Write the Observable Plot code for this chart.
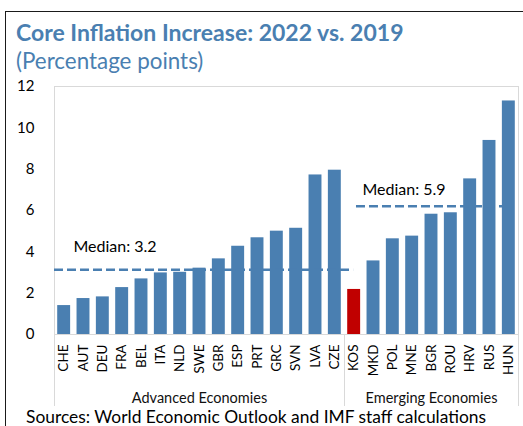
<!DOCTYPE html>
<html>
<head>
<meta charset="utf-8">
<script src="https://cdn.jsdelivr.net/npm/d3@7"></script>
<script src="https://cdn.jsdelivr.net/npm/@observablehq/plot@0.6"></script>
<style>
  html, body { margin: 0; padding: 0; background: #fff; overflow: hidden; }
  body { width: 523px; height: 426px; position: relative; font-family: Lato, "Open Sans", sans-serif; }
  #box { position: absolute; left: 5px; top: 11px; width: 600px; height: 500px; border: 1.5px solid #1a1a1a; box-sizing: border-box; }
  #title { position: absolute; left: 16px; top: 21.1px; font-size: 23px; line-height: 23px; font-weight: 700; color: #4a7fb1; white-space: nowrap; }
  #subtitle { position: absolute; left: 16px; top: 50px; font-size: 22.4px; line-height: 22px; color: #4a7fb1; white-space: nowrap; }
  #chart { position: absolute; left: 0; top: 80px; }
  #caption { position: absolute; left: 26px; top: 407.6px; font-size: 17.4px; line-height: 17.4px; color: #000; white-space: nowrap; }
</style>
</head>
<body>
<div id="box"></div>
<div id="title">Core Inflation Increase: 2022 vs. 2019</div>
<div id="subtitle">(Percentage points)</div>
<div id="chart"></div>
<div id="caption">Sources: World Economic Outlook and IMF staff calculations</div>
<script>
// ---- data ----
const advCountries = ["CHE","AUT","DEU","FRA","BEL","ITA","NLD","SWE","GBR","ESP","PRT","GRC","SVN","LVA","CZE"];
const advValues    = [1.40, 1.74, 1.82, 2.27, 2.69, 2.98, 3.01, 3.21, 3.66, 4.27, 4.68, 5.00, 5.14, 7.72, 7.95];
const emCountries  = ["KOS","MKD","POL","MNE","BGR","ROU","HRV","RUS","HUN"];
const emValues     = [2.18, 3.56, 4.63, 4.76, 5.82, 5.89, 7.53, 9.39, 11.30];
const highlighted  = ["KOS"];
const groupLabels  = ["Advanced Economies", "Emerging Economies"];
const medianLabels = ["Median: 3.2", "Median: 5.9"];
const medianLevels = [3.13, 6.2];          // height of dashed lines as drawn
const medianSpans  = [[0, 15.47], [15.62, 23.28]]; // category-index extents of dashed lines
const medianLabelPos = [[0.98, 4.22], [15.93, 7.0]]; // [category index, value]
const yTicks = [0, 2, 4, 6, 8, 10, 12];

// ---- derived tables ----
const countries = [...advCountries, ...emCountries];
const values = [...advValues, ...emValues];
const n = countries.length;
const data = countries.map((c, i) => ({i, country: c, value: values[i]}));
const groupBounds = [[0, advCountries.length], [advCountries.length, n]];
const groups = groupLabels.map((label, k) => ({label, center: (groupBounds[k][0] + groupBounds[k][1]) / 2}));
const edges = [0, n];
const innerDividers = [advCountries.length];
const medians = medianLabels.map((label, k) => ({
  label, level: medianLevels[k], x1: medianSpans[k][0], x2: medianSpans[k][1],
  lx: medianLabelPos[k][0], ly: medianLabelPos[k][1]
}));
const tickLabel = new Map(data.map(d => [d.i + 0.5, d.country]));

const blue = "#4a7fb1", red = "#c00000", grid = "#d9d9d9";

const chart = Plot.plot({
  width: 523,
  height: 340,
  marginTop: 6,
  marginBottom: 86,
  marginLeft: 54,
  marginRight: 5,
  style: {fontFamily: "Lato, 'Open Sans', sans-serif", background: "transparent", overflow: "visible", color: "#000"},
  x: {domain: [0, n], axis: null},
  y: {domain: [0, 12], axis: null},
  marks: [
    Plot.ruleY([0, 12], {stroke: grid, strokeWidth: 1}),
    Plot.ruleX(edges, {stroke: grid, strokeWidth: 1, insetBottom: -72}),
    Plot.ruleX(innerDividers, {y1: 0, y2: 0, stroke: grid, strokeWidth: 1, insetBottom: -72}),
    Plot.rectY(data, {
      x1: "i", x2: d => d.i + 1, y: "value",
      fill: d => highlighted.includes(d.country) ? red : blue,
      insetLeft: 3.2, insetRight: 3.2
    }),
    Plot.ruleY(medians, {y: "level", x1: "x1", x2: "x2", stroke: blue, strokeWidth: 2.5, strokeDasharray: "9,4"}),
    Plot.text(medians, {x: "lx", y: "ly", text: "label", textAnchor: "start", lineAnchor: "middle", fontSize: 16, fill: "#000"}),
    Plot.axisY(yTicks, {tickSize: 0, tickPadding: 20, fontSize: 15, fill: "#000"}),
    Plot.axisX(data.map(d => d.i + 0.5), {
      tickFormat: v => tickLabel.get(v), tickRotate: -90, tickSize: 0, tickPadding: 10, fontSize: 13.5, fill: "#000"
    }),
    Plot.text(groups, {x: "center", text: "label", frameAnchor: "bottom", lineAnchor: "middle", dy: 64, fontSize: 14.5, fill: "#111"})
  ]
});
document.getElementById("chart").appendChild(chart);
</script>
</body>
</html>
